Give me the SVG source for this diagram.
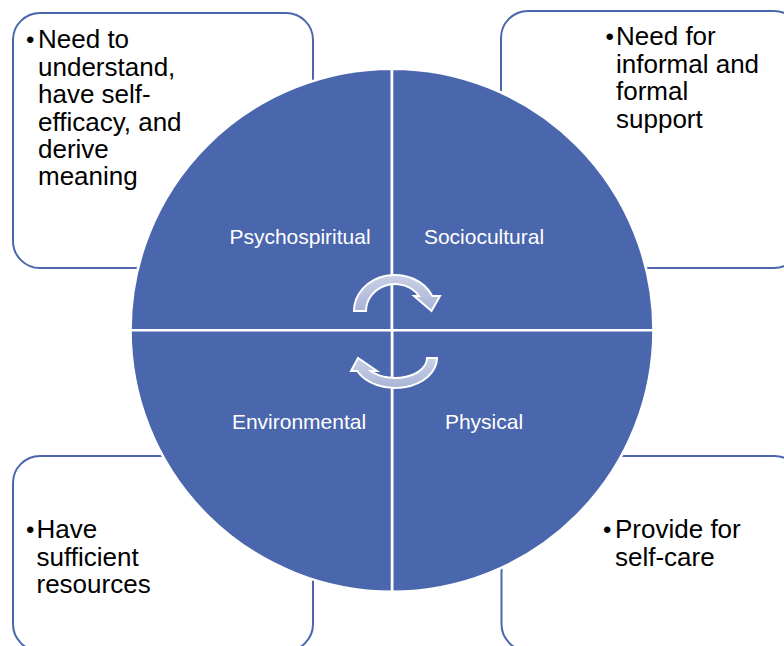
<svg xmlns="http://www.w3.org/2000/svg" width="784" height="646" viewBox="0 0 784 646">
  <defs>
    <style>
      .box { fill: #ffffff; stroke: #4A66AC; stroke-width: 2; }
      .btxt { font-family: "Liberation Sans", Arial, sans-serif; font-size: 26px; fill: #000000; }
      .bul { font-family: "Liberation Sans", Arial, sans-serif; font-size: 24px; fill: #000000; }
      .quad { fill: #4A66AC; stroke: #ffffff; stroke-width: 2.6; }
      .qlbl { font-family: "Liberation Sans", Arial, sans-serif; font-size: 21px; fill: #ffffff; text-anchor: middle; }
      .arrow { fill: url(#arrowGrad); stroke: #ffffff; stroke-width: 2; stroke-linejoin: miter; }
    </style>
    <linearGradient id="arrowGrad" x1="0" y1="0" x2="0" y2="1">
      <stop offset="0" stop-color="#C9D0E6"/>
      <stop offset="1" stop-color="#A9B4D5"/>
    </linearGradient>
  </defs>

  <g id="box-top-left">
    <rect class="box" x="13" y="13" width="300" height="255" rx="27" ry="27"/>
    <text class="bul" x="26" y="47.5">•</text>
    <text class="btxt">
      <tspan x="38" y="48">Need to</tspan>
      <tspan x="38" y="75.5">understand,</tspan>
      <tspan x="38" y="103">have self-</tspan>
      <tspan x="38" y="130.5">efficacy, and</tspan>
      <tspan x="38" y="158">derive</tspan>
      <tspan x="38" y="185">meaning</tspan>
    </text>
  </g>

  <g id="box-top-right">
    <rect class="box" x="501" y="11" width="300" height="257" rx="27" ry="27"/>
    <text class="bul" x="605.5" y="44.5">•</text>
    <text class="btxt">
      <tspan x="616" y="45">Need for</tspan>
      <tspan x="616" y="72.5">informal and</tspan>
      <tspan x="616" y="100">formal</tspan>
      <tspan x="616" y="127.5">support</tspan>
    </text>
  </g>

  <g id="box-bottom-left">
    <rect class="box" x="13" y="456" width="300" height="195" rx="27" ry="27"/>
    <text class="bul" x="26" y="537.5">•</text>
    <text class="btxt">
      <tspan x="36.5" y="538">Have</tspan>
      <tspan x="36.5" y="565.5">sufficient</tspan>
      <tspan x="36.5" y="593">resources</tspan>
    </text>
  </g>

  <g id="box-bottom-right">
    <rect class="box" x="501.5" y="456" width="300" height="195" rx="27" ry="27"/>
    <text class="bul" x="603" y="537.5">•</text>
    <text class="btxt">
      <tspan x="615" y="538">Provide for</tspan>
      <tspan x="615" y="565.5">self-care</tspan>
    </text>
  </g>

  <g id="quad-psychospiritual">
    <path class="quad" d="M392,330.2 L130.5,330.2 A261.5,261.5 0 0 1 392,68.7 Z"/>
    <text class="qlbl" x="300" y="244">Psychospiritual</text>
  </g>
  <g id="quad-sociocultural">
    <path class="quad" d="M392,330.2 L392,68.7 A261.5,261.5 0 0 1 653.5,330.2 Z"/>
    <text class="qlbl" x="484" y="244">Sociocultural</text>
  </g>
  <g id="quad-physical">
    <path class="quad" d="M392,330.2 L653.5,330.2 A261.5,261.5 0 0 1 392,591.7 Z"/>
    <text class="qlbl" x="484" y="429">Physical</text>
  </g>
  <g id="quad-environmental">
    <path class="quad" d="M392,330.2 L392,591.7 A261.5,261.5 0 0 1 130.5,330.2 Z"/>
    <text class="qlbl" x="299" y="429">Environmental</text>
  </g>

  <g id="connectors">
    <path class="arrow" d="M354,311 A41,36 0 0 1 432.3,296 L440,296 L431.5,311 L414,296 L419.1,296 A29,27 0 0 0 366,311 Z"/>
    <path class="arrow" d="M437,358 A42,30 0 0 1 357.2,371 L351,371 L358,358 L377,371 L370.7,371 A32,20 0 0 0 427,358 Z"/>
  </g>
</svg>
